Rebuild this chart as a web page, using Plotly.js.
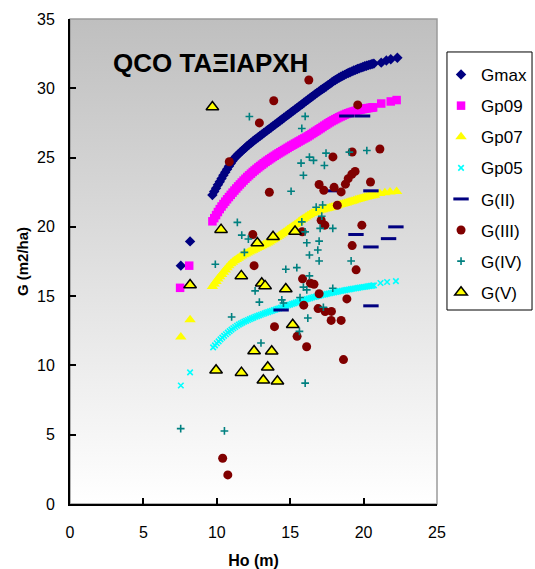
<!DOCTYPE html>
<html>
<head>
<meta charset="utf-8">
<script src="https://cdn.plot.ly/plotly-3.0.1.min.js"></script>
<style>html,body{margin:0;padding:0;background:#fff;}#chart{width:535px;height:569px;}</style>
</head>
<body>
<div id="chart"></div>
<script>
// ---- Data ----
const gmaxX = [7.55,8.18,9.700,9.825,9.950,10.075,10.200,10.325,10.450,10.575,10.700,10.825,10.950,11.075,11.200,11.325,11.450,11.575,11.700,11.825,11.950,12.075,12.200,12.325,12.450,12.575,12.700,12.825,12.950,13.075,13.200,13.325,13.450,13.575,13.700,13.825,13.950,14.075,14.200,14.325,14.450,14.575,14.700,14.825,14.950,15.075,15.200,15.325,15.450,15.575,15.700,15.825,15.950,16.075,16.200,16.325,16.450,16.575,16.700,16.825,16.950,17.075,17.200,17.325,17.450,17.575,17.700,17.825,17.950,18.075,18.200,18.325,18.450,18.575,18.700,18.825,18.950,19.075,19.200,19.325,19.450,19.575,19.700,19.825,19.950,20.075,20.200,20.325,20.450,20.575,20.700,21.20,21.55,21.85,22.30];
const gmaxY = [17.2,18.95,22.30,22.55,22.79,23.03,23.26,23.49,23.72,23.94,24.16,24.37,24.57,24.77,24.95,25.09,25.22,25.35,25.47,25.59,25.71,25.83,25.94,26.05,26.16,26.27,26.37,26.47,26.57,26.67,26.77,26.87,26.97,27.07,27.17,27.27,27.37,27.47,27.57,27.67,27.77,27.87,27.97,28.07,28.17,28.27,28.37,28.47,28.57,28.67,28.77,28.87,28.97,29.07,29.17,29.27,29.37,29.47,29.57,29.67,29.76,29.86,29.95,30.04,30.13,30.23,30.32,30.42,30.52,30.60,30.68,30.76,30.83,30.90,30.97,31.04,31.10,31.16,31.22,31.28,31.33,31.39,31.44,31.49,31.54,31.59,31.63,31.67,31.71,31.75,31.78,31.85,32.00,32.10,32.20];

const gp09X = [7.50,8.12,9.700,9.825,9.950,10.075,10.200,10.325,10.450,10.575,10.700,10.825,10.950,11.075,11.200,11.325,11.450,11.575,11.700,11.825,11.950,12.075,12.200,12.325,12.450,12.575,12.700,12.825,12.950,13.075,13.200,13.325,13.450,13.575,13.700,13.825,13.950,14.075,14.200,14.325,14.450,14.575,14.700,14.825,14.950,15.075,15.200,15.325,15.450,15.575,15.700,15.825,15.950,16.075,16.200,16.325,16.450,16.575,16.700,16.825,16.950,17.075,17.200,17.325,17.450,17.575,17.700,17.825,17.950,18.075,18.200,18.325,18.450,18.575,18.700,18.825,18.950,19.075,19.200,19.325,19.450,19.575,19.700,19.825,19.950,20.075,20.200,20.325,20.450,20.575,20.650,21.20,21.85,22.25];
const gp09Y = [15.6,17.2,20.40,20.63,20.85,21.07,21.28,21.47,21.65,21.82,21.99,22.15,22.31,22.47,22.62,22.77,22.92,23.06,23.20,23.34,23.47,23.60,23.72,23.84,23.96,24.07,24.18,24.29,24.39,24.49,24.59,24.69,24.78,24.87,24.96,25.05,25.13,25.22,25.30,25.38,25.46,25.54,25.62,25.70,25.78,25.86,25.93,26.01,26.08,26.16,26.23,26.31,26.38,26.45,26.53,26.61,26.70,26.78,26.87,26.95,27.04,27.12,27.21,27.30,27.38,27.47,27.55,27.63,27.70,27.77,27.84,27.91,27.97,28.03,28.09,28.15,28.20,28.25,28.29,28.33,28.37,28.41,28.44,28.47,28.50,28.53,28.55,28.57,28.59,28.61,28.62,28.90,29.05,29.15];

const gp07X = [7.55,8.18,9.700,9.825,9.950,10.075,10.200,10.325,10.450,10.575,10.700,10.825,10.950,11.075,11.200,11.325,11.450,11.575,11.700,11.825,11.950,12.075,12.200,12.325,12.450,12.575,12.700,12.825,12.950,13.075,13.200,13.325,13.450,13.575,13.700,13.825,13.950,14.075,14.200,14.325,14.450,14.575,14.700,14.825,14.950,15.075,15.200,15.325,15.450,15.575,15.700,15.825,15.950,16.075,16.200,16.325,16.450,16.575,16.700,16.825,16.950,17.075,17.200,17.325,17.450,17.575,17.700,17.825,17.950,18.075,18.200,18.325,18.450,18.575,18.700,18.825,18.950,19.075,19.200,19.325,19.450,19.575,19.700,19.825,19.950,20.075,20.200,20.325,20.450,20.600,20.750,21.10,21.45,21.80,22.25];
const gp07Y = [12.05,13.3,15.70,15.88,16.05,16.23,16.40,16.57,16.73,16.89,17.05,17.19,17.33,17.44,17.55,17.65,17.74,17.82,17.90,17.98,18.05,18.12,18.19,18.26,18.32,18.39,18.45,18.51,18.57,18.64,18.70,18.77,18.84,18.91,18.99,19.07,19.15,19.23,19.32,19.41,19.50,19.59,19.69,19.79,19.89,19.98,20.07,20.16,20.25,20.35,20.45,20.54,20.63,20.72,20.80,20.88,20.96,21.02,21.07,21.12,21.17,21.21,21.24,21.28,21.31,21.35,21.38,21.42,21.45,21.49,21.53,21.57,21.61,21.65,21.69,21.73,21.77,21.81,21.85,21.89,21.93,21.97,22.01,22.05,22.09,22.13,22.16,22.19,22.22,22.25,22.28,22.40,22.47,22.52,22.55];

const gp05X = [7.55,8.18,9.750,9.875,10.000,10.125,10.250,10.375,10.500,10.625,10.750,10.875,11.000,11.125,11.250,11.375,11.500,11.625,11.750,11.875,12.000,12.125,12.250,12.375,12.500,12.625,12.750,12.875,13.000,13.125,13.250,13.375,13.500,13.625,13.750,13.875,14.000,14.125,14.250,14.375,14.500,14.625,14.750,14.875,15.000,15.125,15.250,15.375,15.500,15.625,15.750,15.875,16.000,16.125,16.250,16.375,16.500,16.625,16.750,16.875,17.000,17.125,17.250,17.375,17.500,17.625,17.750,17.875,18.000,18.125,18.250,18.375,18.500,18.625,18.750,18.875,19.000,19.125,19.250,19.375,19.500,19.625,19.750,19.875,20.000,20.125,20.250,20.375,20.500,20.600,20.700,21.15,21.60,22.20];
const gp05Y = [8.55,9.5,11.30,11.45,11.60,11.74,11.88,12.01,12.13,12.25,12.37,12.48,12.58,12.68,12.77,12.86,12.94,13.02,13.09,13.16,13.22,13.28,13.34,13.40,13.45,13.51,13.56,13.61,13.66,13.71,13.76,13.81,13.85,13.90,13.94,13.99,14.03,14.08,14.12,14.17,14.21,14.26,14.30,14.35,14.39,14.44,14.48,14.53,14.57,14.62,14.66,14.70,14.74,14.78,14.82,14.86,14.90,14.94,14.97,15.01,15.04,15.07,15.10,15.13,15.16,15.19,15.22,15.25,15.27,15.30,15.33,15.36,15.38,15.41,15.43,15.46,15.48,15.51,15.53,15.55,15.57,15.60,15.62,15.64,15.66,15.68,15.70,15.72,15.74,15.76,15.78,15.95,16.02,16.08];

const g2X = [14.38,18.0,18.86,19.93,20.5,19.48,20.5,21.7,22.2,20.5];
const g2Y = [14.0,22.6,28.0,28.0,22.6,19.45,18.55,19.15,20.0,14.3];

const g3X = [10.4,10.75,10.85,12.45,12.54,12.9,13.58,13.88,13.93,15.47,15.82,15.84,15.92,16.12,16.27,16.38,16.62,16.9,16.97,16.97,17.11,17.29,17.36,17.38,17.81,17.79,17.91,17.99,18.21,18.47,18.47,18.63,18.76,18.86,18.95,19.2,19.22,19.22,19.42,19.49,19.6,19.88,20.47,21.11];
const g3Y = [3.3,2.1,24.7,19.45,17.2,27.5,22.5,29.1,12.8,12.1,19.65,16.25,14.35,11.35,30.6,15.93,15.86,14.1,15.17,23.06,20.48,22.64,20.12,13.89,13.9,13.25,25.05,22.85,21.56,22.52,13.25,10.42,23.08,14.8,23.48,23.8,25.4,18.65,24.0,16.9,28.8,20.12,23.24,25.62];

const g4X = [7.54,9.9,10.52,11.01,11.4,11.7,11.88,12.15,12.22,12.61,12.9,13.01,14.43,14.54,14.7,15.06,15.45,15.63,15.67,15.74,15.79,15.79,15.9,15.9,16.02,16.02,16.02,16.13,16.13,16.2,16.31,16.31,16.31,16.59,16.77,16.88,16.97,16.97,17.04,17.15,17.21,17.26,17.33,17.44,17.9,17.9,19.03,19.15,20.22];
const g4Y = [5.44,17.3,5.27,13.5,20.32,19.4,18.16,19.12,27.96,15.38,14.57,11.62,14.73,14.5,16.94,22.57,17.06,12.46,14.9,24.6,20.36,27.1,23.72,15.65,27.97,19.64,8.72,18.85,15.45,13.42,25.03,17.97,16.46,24.8,21.42,18.33,18.97,17.54,19.89,20.77,21.58,14.2,24.43,25.32,19.89,15.57,25.39,17.54,25.51];

const g5X = [8.18,9.7,9.95,10.29,11.67,11.68,12.54,12.76,13.06,13.29,13.17,13.47,13.74,13.83,14.13,14.7,15.17,15.33];
const g5Y = [15.8,28.65,9.65,19.8,16.46,9.48,11.04,18.83,15.93,15.74,8.93,9.87,11.02,19.28,8.86,15.52,12.94,19.67];

const seriesNames = ['Gmax','Gp09','Gp07','Gp05','G(II)','G(III)','G(IV)','G(V)'];
const chartTitle = 'QCO ΤΑΞΙΑΡΧΗ';
const xTitle = 'Ho (m)';
const yTitle = 'G (m2/ha)';

// ---- Traces ----
function tr(i, x, y, marker) {
  return {type:'scatter', mode:'markers', name:seriesNames[i], legendgroup:'g'+i,
          x:x, y:y, marker:marker, hoverinfo:'x+y'};
}
const traces = [
  tr(0, gmaxX, gmaxY, {symbol:'diamond', size:8, color:'#000080'}),
  tr(1, gp09X, gp09Y, {symbol:'square', size:8.5, color:'#FF00FF'}),
  tr(2, gp07X, gp07Y, {symbol:'triangle-up', size:10, color:'#FFFF00'}),
  tr(3, gp05X, gp05Y, {symbol:'x-thin-open', size:5.5, color:'#00FFFF', line:{width:1.6, color:'#00FFFF'}}),
  tr(4, g2X, g2Y, {symbol:'line-ew-open', size:11, color:'#000080', line:{width:3, color:'#000080'}}),
  tr(5, g3X, g3Y, {symbol:'circle', size:9, color:'#800000'}),
  tr(6, g4X, g4Y, {symbol:'cross-thin-open', size:5.5, color:'#008080', line:{width:1.6, color:'#008080'}}),
  tr(7, g5X, g5Y, {symbol:'triangle-up', size:11, color:'#FFFF00', line:{width:1.5, color:'#000000'}})
];

// ---- Background gradient of the plot area ----
const svg = "<svg xmlns='http://www.w3.org/2000/svg' width='10' height='100' preserveAspectRatio='none'>" +
  "<defs><linearGradient id='g' x1='0' y1='0' x2='0' y2='1'>" +
  "<stop offset='0' stop-color='#bfbfbf'/><stop offset='1' stop-color='#ffffff'/></linearGradient></defs>" +
  "<rect width='10' height='100' fill='url(#g)'/></svg>";
const bgSrc = 'data:image/svg+xml;charset=utf-8,' + encodeURIComponent(svg);

const fontFam = 'Arial, "Liberation Sans", sans-serif';
const axisCommon = {
  ticks:'inside', ticklen:6, tickwidth:2, tickcolor:'#000',
  showline:true, linecolor:'#000', linewidth:2,
  showgrid:false, zeroline:false, automargin:false,
  tickfont:{size:16, color:'#000'}
};

const layout = {
  width:535, height:569,
  margin:{l:70, r:98, t:19, b:65, pad:0, autoexpand:false},
  paper_bgcolor:'#ffffff', plot_bgcolor:'rgba(0,0,0,0)',
  font:{family:fontFam, color:'#000', size:15},
  showlegend:true,
  legend:{x:1.011, xanchor:'left', y:0.4, yanchor:'bottom', bgcolor:'rgba(0,0,0,0)',
          borderwidth:0, font:{size:17, color:'#000'},
          tracegroupgap:6, itemwidth:30},
  xaxis:Object.assign({}, axisCommon, {range:[0,25], tick0:0, dtick:5, ticklabelstandoff:13,
          title:{text:'<b>'+xTitle+'</b>', font:{size:16}, standoff:16}}),
  yaxis:Object.assign({}, axisCommon, {range:[0,35], tick0:0, dtick:5, ticklabelstandoff:10,
          title:{text:'<b>'+yTitle+'</b>', font:{size:15}, standoff:5}}),
  images:[{source:bgSrc, xref:'paper', yref:'paper', x:0, y:1, sizex:1, sizey:1,
           xanchor:'left', yanchor:'top', sizing:'stretch', layer:'below'}],
  shapes:[
    {type:'rect', xref:'paper', yref:'paper', x0:0, x1:1, y0:0, y1:1,
     line:{color:'#9a9a9a', width:1.5}, layer:'below'},
    {type:'rect', xref:'paper', yref:'paper', x0:1.0272, x1:1.2589, y0:0.4, y1:0.932,
     line:{color:'#000', width:1}, layer:'above'}
  ],
  annotations:[{xref:'paper', yref:'paper', x:0.3826, y:0.910, xanchor:'center', yanchor:'middle',
                text:'<b>'+chartTitle+'</b>', showarrow:false, font:{size:26, color:'#000'}}]
};

Plotly.newPlot('chart', traces, layout, {displayModeBar:false, staticPlot:true});
</script>
</body>
</html>
